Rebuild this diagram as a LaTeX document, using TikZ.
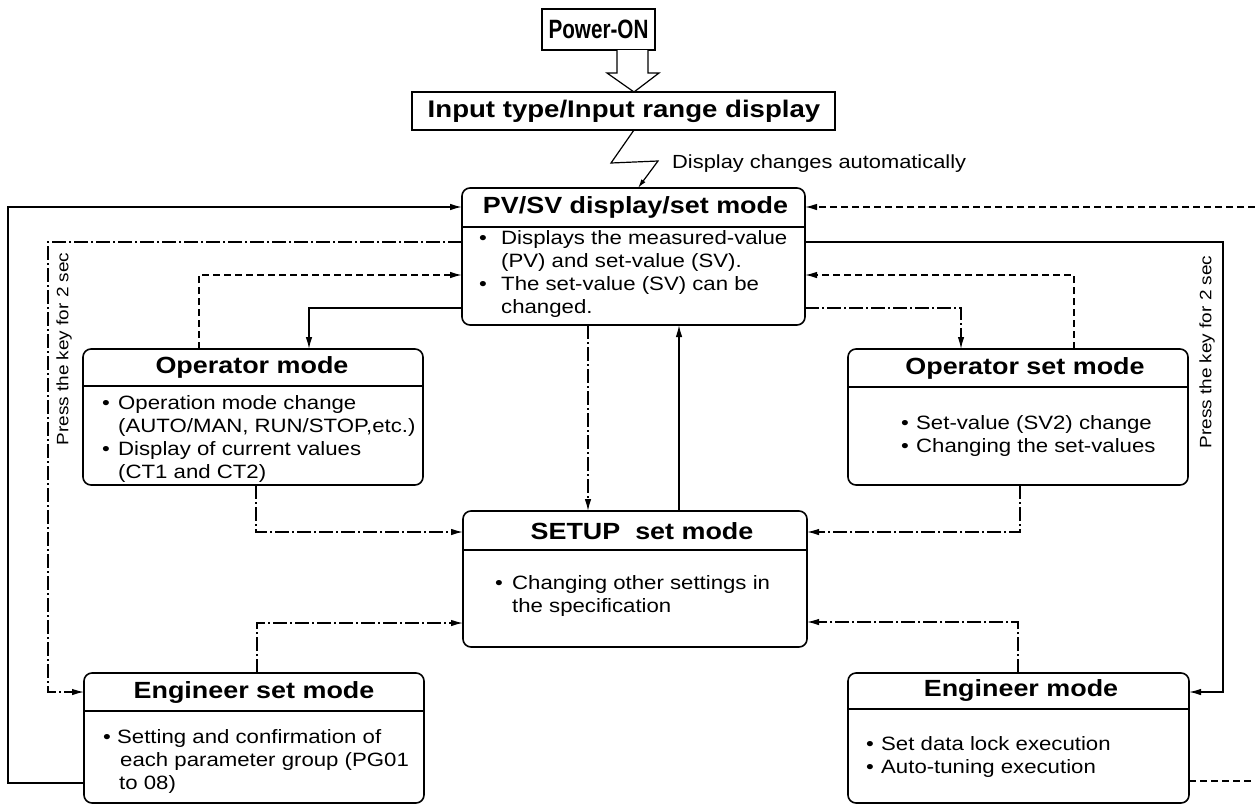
\documentclass[tikz,border=0pt]{standalone}
\usepackage{fontspec}
\setmainfont{Liberation Sans}[FakeStretch=1.15]
\newfontfamily\condfont{Liberation Sans}[FakeStretch=0.78]
\usetikzlibrary{arrows.meta,calc}
\newcommand\mybul[1]{\makebox[#1][l]{\textbullet}}
\newcommand\myind[1]{\hspace*{#1}}
\tikzset{
  x=1pt, y=-1pt,
  modebox/.style={draw, line width=1.6pt, rounded corners=8pt, inner sep=0pt, outer sep=0pt},
  plainbox/.style={draw, line width=1.6pt, inner sep=0pt, outer sep=0pt},
  divider/.style={line width=1.4pt},
  titletext/.style={font=\bfseries\fontsize{23.4}{28}\selectfont, inner sep=0pt},
  bodytext/.style={font=\fontsize{19.3}{23}\selectfont, align=left, inner sep=0pt, anchor=west},
  conn/.style={line width=1.3pt},
  arr/.style={-{Latex[length=12pt,width=6.5pt]}},
  dsh/.style={dash pattern=on 7pt off 4pt},
  dshdot/.style={dash pattern=on 14pt off 3pt on 2pt off 3pt},
  rottext/.style={rotate=90, font=\fontsize{16.5}{20}\selectfont, inner sep=0pt},
}
\begin{document}
\begin{tikzpicture}
\useasboundingbox[fill=white] (0,0) rectangle (1255,806);

% ---------- top boxes ----------
\node[plainbox, line width=2pt, minimum width=113pt, minimum height=41pt] (power) at (598.5,29.5) {};
\node[font=\condfont\bfseries\fontsize{26.5}{30}\selectfont, inner sep=0pt] (powert) at (598.5,29.5) {Power-ON};

\node[plainbox, minimum width=423pt, minimum height=38pt] (input) at (623.5,111) {};
\node[font=\bfseries\fontsize{24}{28}\selectfont, inner sep=0pt] (inputt) at (624,111) {Input type/Input range display};

% hollow arrow
\draw[line width=1.2pt, fill=white, line join=miter]
  (power.south -| 617,0) -- (617,73) -- (607,73) -- (input.north -| 634,0)
  -- (659,73) -- (648,73) -- (power.south -| 648,0);

% ---------- mode boxes ----------
\node[modebox, minimum width=343pt, minimum height=137pt] (pv) at (633.5,256.5) {};
\draw[divider] (pv.west |- 0,227) -- (pv.east |- 0,227);
\node[titletext] (pvt) at (635.5,207.5) {PV/SV display/set mode};
\node[bodytext] (pvb) at (479,274) {\mybul{22pt}Displays the measured-value\\\myind{22pt}(PV) and set-value (SV).\\\mybul{22pt}The set-value (SV) can be\\\myind{22pt}changed.};

\node[modebox, minimum width=340pt, minimum height=136pt] (opm) at (253,417) {};
\draw[divider] (opm.west |- 0,386) -- (opm.east |- 0,386);
\node[titletext] (opmt) at (252,367.5) {Operator mode};
\node[bodytext] (opmb) at (102,438.5) {\mybul{16pt}Operation mode change\\\myind{16pt}(AUTO/MAN, RUN/STOP,etc.)\\\mybul{16pt}Display of current values\\\myind{16pt}(CT1 and CT2)};

\node[modebox, minimum width=340pt, minimum height=136pt] (opsm) at (1018,417) {};
\draw[divider] (opsm.west |- 0,387) -- (opsm.east |- 0,387);
\node[titletext] (opsmt) at (1025,368) {Operator set mode};
\node[bodytext] (opsmb) at (901,436) {\mybul{15pt}Set-value (SV2) change\\\mybul{15pt}Changing the set-values};

\node[modebox, minimum width=344pt, minimum height=136pt] (setup) at (635,579) {};
\draw[divider] (setup.west |- 0,550) -- (setup.east |- 0,550);
\node[titletext] (setupt) at (642,531) {SETUP\ \ set mode};
\node[bodytext] (setupb) at (495,596) {\mybul{17pt}Changing other settings in\\\myind{17pt}the specification};

\node[modebox, minimum width=340pt, minimum height=130pt] (engs) at (254,738) {};
\draw[divider] (engs.west |- 0,711) -- (engs.east |- 0,711);
\node[titletext] (engst) at (254,692) {Engineer set mode};
\node[bodytext] (engsb) at (103,761.5) {\mybul{14pt}Setting and confirmation of\\\myind{17pt}each parameter group (PG01\\\myind{16pt}to 08)};

\node[modebox, minimum width=341pt, minimum height=130pt] (eng) at (1018.5,738) {};
\draw[divider] (eng.west |- 0,709) -- (eng.east |- 0,709);
\node[titletext] (engt) at (1021,690.5) {Engineer mode};
\node[bodytext] (engb) at (866,756.5) {\mybul{15pt}Set data lock execution\\\mybul{15pt}Auto-tuning execution};

% ---------- zigzag ----------
\coordinate (z1) at (611,163);
\coordinate (z2) at (658,161);
\draw[conn, line width=1.2pt, -{Latex[length=9pt,width=5pt]}] (input.south -| 634,0) -- (z1) -- (z2) -- (pv.north -| 638,0);
\node[font=\fontsize{19}{23}\selectfont, inner sep=0pt, anchor=west] (disp) at (672,164) {Display changes automatically};

% ---------- connectors ----------
% outer left solid
\draw[conn, arr] (engs.west |- 0,783) -- (8,783) -- (8,207) -- (pv.west |- 0,207);
% left dash-dot, press key
\draw[conn, dshdot, arr] (pv.west |- 0,242) -- (48,242) -- (48,692) -- (engs.west |- 0,692);
\node[rottext] (lblL) at (64,349) {Press the key for 2 sec};
% operator mode -> pv dashed
\draw[conn, dsh, arr] (opm.north -| 199,0) -- (199,275) -- (pv.west |- 0,275);
% pv -> operator mode solid
\draw[conn, arr] (pv.west |- 0,308) -- (309,308) -- (opm.north -| 309,0);
% pv -> setup dash-dot
\draw[conn, dshdot, arr] (pv.south -| 588,0) -- (setup.north -| 588,0);
% setup -> pv solid
\draw[conn, arr] (setup.north -| 679,0) -- (pv.south -| 679,0);
% pv -> operator set dash-dot
\draw[conn, dshdot, arr] (pv.east |- 0,308) -- (961,308) -- (opsm.north -| 961,0);
% operator set -> pv dashed
\draw[conn, dsh, arr] (opsm.north -| 1074,0) -- (1074,275) -- (pv.east |- 0,275);
% pv -> engineer mode solid
\draw[conn, arr] (pv.east |- 0,242) -- (1223,242) -- (1223,692) -- (eng.east |- 0,692);
\node[rottext] (lblR) at (1207,352) {Press the key for 2 sec};
% off-picture dashed links
\coordinate (edgeA) at (1255,207);
\coordinate (edgeB) at (1255,781);
\draw[conn, dsh, arr] (edgeA) -- (pv.east |- 0,207);
\draw[conn, dsh] (eng.east |- 0,781) -- (edgeB);
% to setup
\draw[conn, dshdot, arr] (opm.south -| 256,0) -- (256,532) -- (setup.west |- 0,532);
\draw[conn, dshdot, arr] (engs.north -| 257,0) -- (257,623) -- (setup.west |- 0,623);
\draw[conn, dshdot, arr] (opsm.south -| 1020,0) -- (1020,532) -- (setup.east |- 0,532);
\draw[conn, dshdot, arr] (eng.north -| 1018,0) -- (1018,622) -- (setup.east |- 0,622);
\end{tikzpicture}
\end{document}
